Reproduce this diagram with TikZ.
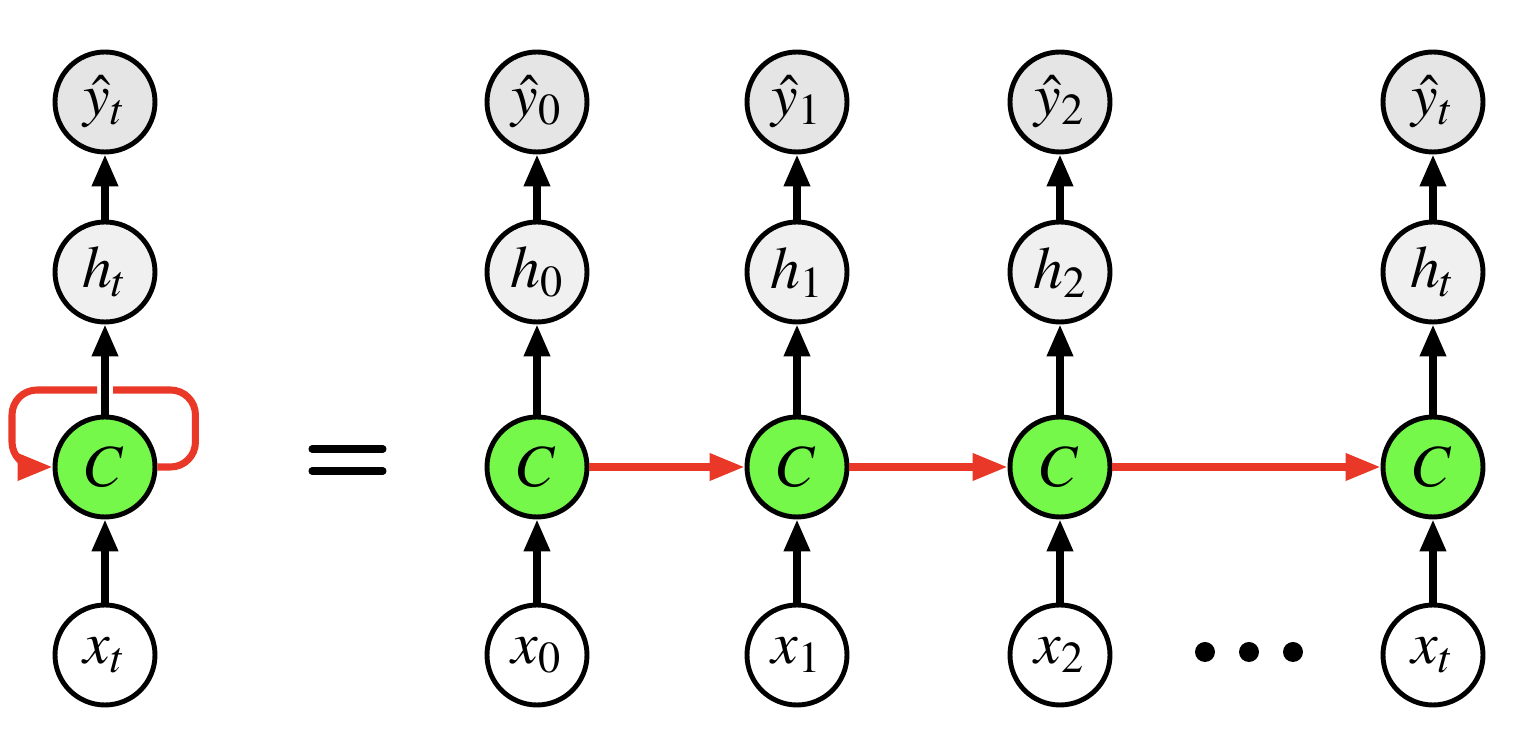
\documentclass[tikz,border=0pt]{standalone}
\usepackage{mathptmx}
\usepackage{tikz}
\usetikzlibrary{arrows.meta}
\definecolor{cellgreen}{RGB}{118,248,75}
\definecolor{looped}{RGB}{234,56,40}

\tikzset{
  unit/.style={circle,draw,line width=1.4pt,minimum size=1.0cm,inner sep=0pt,
    font=\fontsize{17}{20}\selectfont},
  outnode/.style={unit,fill=gray!20},
  hidnode/.style={unit,fill=gray!12},
  cellnode/.style={unit,fill=cellgreen},
  innode/.style={unit,fill=white},
  fwd/.style={-{Triangle[length=0.32cm,width=0.25cm]},line width=2pt},
  rec/.style={-{Triangle[length=0.35cm,width=0.26cm]},line width=2pt,looped},
}

\begin{document}
\begin{tikzpicture}
  \useasboundingbox (0,0) rectangle (15.14,-7.54);

  % folded network
  \node[outnode] (ly) at (1.05,-1.02) {$\hat{y}_t$};
  \node[hidnode] (lh) at (1.05,-2.72) {$h_t$};
  \node[cellnode] (lc) at (1.05,-4.67) {$C$};
  \node[innode] (lx) at (1.05,-6.55) {$x_t$};
  \draw[fwd] (lx) -- (lc);
  \draw[fwd] (lc) -- (lh);
  \draw[fwd] (lh) -- (ly);

  % loop round the cell
  \coordinate (gapR) at (1.13,-3.90);
  \coordinate (gapL) at (0.97,-3.90);
  \draw[rec,-,rounded corners=0.25cm] (lc.east) -- ++(0.38,0) |- (gapR);
  \draw[rec,rounded corners=0.25cm] (gapL) -- ++(-0.85,0) |- (lc.west);

  % equals sign
  \draw[line width=2pt,line cap=round] (3.12,-4.49) -- (3.83,-4.49);
  \draw[line width=2pt,line cap=round] (3.12,-4.71) -- (3.83,-4.71);

  % unrolled network
  \foreach \i/\px/\lab in {0/5.37/0,1/7.97/1,2/10.60/2,3/14.33/t}{
    \node[outnode] (y\i) at (\px,-1.02) {$\hat{y}_\lab$};
    \node[hidnode] (h\i) at (\px,-2.72) {$h_\lab$};
    \node[cellnode] (c\i) at (\px,-4.67) {$C$};
    \node[innode] (x\i) at (\px,-6.55) {$x_\lab$};
    \draw[fwd] (x\i) -- (c\i);
    \draw[fwd] (c\i) -- (h\i);
    \draw[fwd] (h\i) -- (y\i);
  }
  \draw[rec] (c0) -- (c1);
  \draw[rec] (c1) -- (c2);
  \draw[rec] (c2) -- (c3);

  % dots
  \foreach \dx in {12.05,12.49,12.93}
    \fill (\dx,-6.52) circle (0.1);
\end{tikzpicture}
\end{document}
